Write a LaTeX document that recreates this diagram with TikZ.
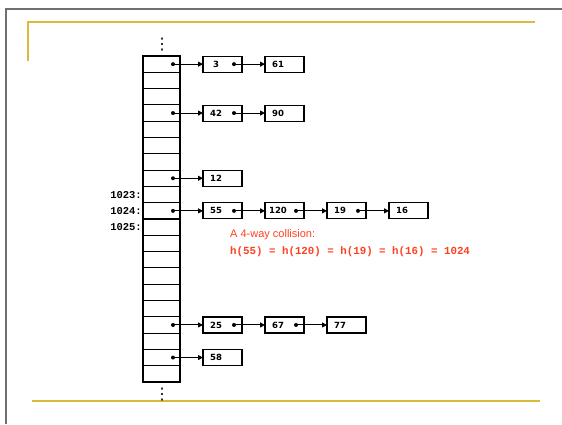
\documentclass[tikz,border=0pt]{standalone}
\usepackage{fontspec}
\setmainfont{Liberation Sans}
\newfontfamily\keyfont{DejaVu Sans}
\newfontfamily\codefont{Liberation Mono}
\usetikzlibrary{positioning,arrows.meta,calc}
\definecolor{cgold}{HTML}{DDB93A}
\definecolor{cframe}{HTML}{707070}
\definecolor{chit}{HTML}{FF4020}

\begin{document}
\begin{tikzpicture}[
  x=1pt, y=-1pt,
  >={Triangle[length=5pt,width=5pt]},
  slot/.style={draw, line width=1.1pt, minimum width=37pt, minimum height=16.3pt, inner sep=0pt, outer sep=0pt},
  item/.style={draw, line width=1.1pt, minimum width=39pt, minimum height=16pt, inner sep=0pt, outer sep=0pt},
  val/.style={font=\keyfont\bfseries\fontsize{8.5}{10}\selectfont, inner sep=0pt},
  ptr/.style={circle, fill, minimum size=4pt, inner sep=0pt},
  link/.style={->, line width=1pt},
  idx/.style={font=\codefont\bfseries\fontsize{10.5}{12}\selectfont, anchor=east, inner sep=1pt},
  more/.style={font=\keyfont\fontsize{16}{16}\selectfont, inner sep=0pt},
  note/.style={text=chit, anchor=west, inner sep=0pt},
  rule/.style={line width=1.6pt, draw=cgold},
]
\useasboundingbox (0,0) rectangle (562,424);

% slide frame
\draw[cframe, line width=1.5pt] (6,424) -- (6,9) -- (562,9);
\draw[rule] (28,61) -- (28,22) -- (535,22);
\draw[rule] (32,401) -- (540,401);

% hash table
\foreach \i in {0,...,19} { \node[slot] (c\i) at (161.5,{56+16.3*(\i+0.5)}) {}; }
\node[more] (topdots) at (162,45) {⋮};
\node[more] (botdots) at (162,395) {⋮};
\node[idx] (l1023) at (c8.west) {1023:};
\node[idx] (l1024) at (c9.west) {1024:};
\node[idx] (l1025) at (c10.west) {1025:};

% chains
\foreach \r/\vals in {0/{3,61},3/{42,90},7/{12},9/{55,120,19,16},16/{25,67,77},18/{58}} {
  \node[ptr] (p\r) at ($(c\r.east)+(-7pt,0)$) {};
  \foreach \v [count=\k, remember=\k as \j (initially 0)] in \vals {
    \ifnum\k=1
      \node[item, right=23pt of c\r] (n\r-\k) {};
      \draw[link] (p\r.center) -- (n\r-\k.west);
    \else
      \node[item, right=23pt of n\r-\j] (n\r-\k) {};
      \node[ptr] (q\r-\j) at ($(n\r-\j.east)+(-8pt,0)$) {};
      \draw[link] (q\r-\j.center) -- (n\r-\k.west);
    \fi
    \node[val] (v\r-\k) at ($(n\r-\k.west)+(13pt,0)$) {\v};
  }
}

% collision note
\node[note, font=\fontsize{11}{13}\selectfont] (coll) at (230,235) {A 4-way collision:};
\node[note, font=\codefont\bfseries\fontsize{10.8}{12}\selectfont] (hash) at (230,252)
  {h(55) = h(120) = h(19) = h(16) = 1024};
\end{tikzpicture}
\end{document}
